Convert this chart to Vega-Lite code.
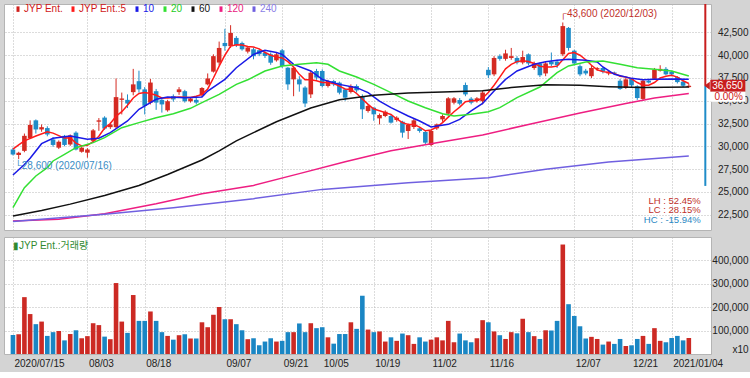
{
  "$schema": "https://vega.github.io/schema/vega-lite/v6.json",
  "background": "#d4d4d4",
  "padding": {"left": 3, "top": 3, "right": 3, "bottom": 3},
  "config": {
    "font": "Liberation Sans, sans-serif",
    "view": {"fill": "white", "stroke": "#b4b4b4"},
    "axis": {"labelFont": "Liberation Sans, sans-serif", "labelFontSize": 10, "labelColor": "#222222", "gridColor": "#b8b8b8", "gridDash": [1, 2], "gridWidth": 1, "domain": false, "ticks": false, "title": null, "labelOverlap": false},
    "concat": {"spacing": 5}
  },
  "datasets": {
    "p": [
      {"i":0,"o":29650,"h":29850,"l":29000,"c":29100,"v":81000},
      {"i":1,"o":29050,"h":29400,"l":28600,"c":29300,"v":84000},
      {"i":2,"o":29500,"h":31400,"l":29350,"c":31150,"v":242000},
      {"i":3,"o":30900,"h":32850,"l":30800,"c":32350,"v":170000},
      {"i":4,"o":32850,"h":32950,"l":31400,"c":31850,"v":127000},
      {"i":5,"o":31850,"h":32400,"l":31600,"c":32100,"v":138000},
      {"i":6,"o":32000,"h":32200,"l":31100,"c":31300,"v":77000},
      {"i":7,"o":30750,"h":31000,"l":29950,"c":30150,"v":93000},
      {"i":8,"o":29850,"h":30650,"l":29700,"c":30500,"v":98000},
      {"i":9,"o":31150,"h":31250,"l":30000,"c":30150,"v":58000},
      {"i":10,"o":30200,"h":31300,"l":30050,"c":31200,"v":85000},
      {"i":11,"o":31500,"h":31650,"l":29550,"c":29650,"v":101000},
      {"i":12,"o":29400,"h":30000,"l":29300,"c":29850,"v":67000},
      {"i":13,"o":29300,"h":29800,"l":28750,"c":29650,"v":76000},
      {"i":14,"o":30600,"h":31900,"l":30500,"c":31750,"v":131000},
      {"i":15,"o":32700,"h":33100,"l":31700,"c":32850,"v":123000},
      {"i":16,"o":33150,"h":33300,"l":31800,"c":31950,"v":74000},
      {"i":17,"o":32100,"h":32600,"l":31900,"c":32400,"v":63000},
      {"i":18,"o":32100,"h":37450,"l":32000,"c":35400,"v":302000},
      {"i":19,"o":35100,"h":35900,"l":33500,"c":35250,"v":138000},
      {"i":20,"o":35100,"h":35700,"l":34200,"c":34700,"v":90000},
      {"i":21,"o":35950,"h":38500,"l":35600,"c":36800,"v":251000},
      {"i":22,"o":37150,"h":38300,"l":35900,"c":36250,"v":141000},
      {"i":23,"o":36250,"h":36500,"l":33500,"c":34450,"v":141000},
      {"i":24,"o":34800,"h":37400,"l":34600,"c":37000,"v":181000},
      {"i":25,"o":36050,"h":36300,"l":34000,"c":34800,"v":141000},
      {"i":26,"o":35100,"h":35300,"l":33700,"c":34600,"v":93000},
      {"i":27,"o":33950,"h":35100,"l":33800,"c":34950,"v":77000},
      {"i":28,"o":35500,"h":35700,"l":34900,"c":35150,"v":61000},
      {"i":29,"o":35950,"h":36500,"l":35650,"c":36250,"v":80000},
      {"i":30,"o":36050,"h":36200,"l":34800,"c":34950,"v":84000},
      {"i":31,"o":34950,"h":35400,"l":34800,"c":35250,"v":66000},
      {"i":32,"o":35100,"h":35300,"l":34600,"c":34800,"v":66000},
      {"i":33,"o":35600,"h":36500,"l":35400,"c":36400,"v":135000},
      {"i":34,"o":36800,"h":38000,"l":36700,"c":37450,"v":114000},
      {"i":35,"o":38200,"h":40100,"l":38100,"c":39900,"v":167000},
      {"i":36,"o":39200,"h":41500,"l":38900,"c":40800,"v":200000},
      {"i":37,"o":41350,"h":42900,"l":40500,"c":41000,"v":148000},
      {"i":38,"o":41000,"h":43300,"l":40800,"c":42450,"v":148000},
      {"i":39,"o":41900,"h":42100,"l":40900,"c":41100,"v":127000},
      {"i":40,"o":41350,"h":41500,"l":40500,"c":40650,"v":101000},
      {"i":41,"o":40400,"h":41000,"l":40200,"c":40850,"v":63000},
      {"i":42,"o":40650,"h":40830,"l":39550,"c":39900,"v":67000},
      {"i":43,"o":40540,"h":40700,"l":39900,"c":40100,"v":37000},
      {"i":44,"o":40280,"h":40450,"l":39700,"c":39920,"v":53000},
      {"i":45,"o":40100,"h":40300,"l":38950,"c":39180,"v":67000},
      {"i":46,"o":39440,"h":40300,"l":39300,"c":40100,"v":53000},
      {"i":47,"o":40540,"h":40700,"l":38600,"c":38820,"v":56000},
      {"i":48,"o":38630,"h":38700,"l":36200,"c":36800,"v":93000},
      {"i":49,"o":37350,"h":38700,"l":35500,"c":38630,"v":93000},
      {"i":50,"o":37350,"h":37700,"l":36000,"c":36800,"v":130000},
      {"i":51,"o":36450,"h":36600,"l":34300,"c":34700,"v":93000},
      {"i":52,"o":35700,"h":38300,"l":35300,"c":38080,"v":131000},
      {"i":53,"o":38270,"h":38500,"l":37300,"c":37540,"v":110000},
      {"i":54,"o":38270,"h":38450,"l":36450,"c":36620,"v":114000},
      {"i":55,"o":36620,"h":37300,"l":36450,"c":37170,"v":71000},
      {"i":56,"o":37170,"h":37300,"l":36600,"c":36800,"v":44000},
      {"i":57,"o":36990,"h":37100,"l":35700,"c":35890,"v":85000},
      {"i":58,"o":36250,"h":36300,"l":35000,"c":35340,"v":85000},
      {"i":59,"o":35960,"h":36800,"l":35800,"c":36620,"v":135000},
      {"i":60,"o":36620,"h":36800,"l":35900,"c":36140,"v":107000},
      {"i":61,"o":35520,"h":35700,"l":33000,"c":34060,"v":248000},
      {"i":62,"o":33880,"h":34600,"l":33700,"c":34430,"v":104000},
      {"i":63,"o":34240,"h":34300,"l":32800,"c":33510,"v":93000},
      {"i":64,"o":33070,"h":33600,"l":32400,"c":33440,"v":96000},
      {"i":65,"o":33330,"h":33950,"l":33200,"c":33800,"v":53000},
      {"i":66,"o":33330,"h":33450,"l":32500,"c":32600,"v":71000},
      {"i":67,"o":32890,"h":33300,"l":32700,"c":33140,"v":56000},
      {"i":68,"o":32700,"h":32800,"l":30950,"c":31500,"v":87000},
      {"i":69,"o":31680,"h":32500,"l":30800,"c":32340,"v":80000},
      {"i":70,"o":32120,"h":33000,"l":31900,"c":32850,"v":43000},
      {"i":71,"o":31970,"h":32100,"l":31500,"c":31680,"v":71000},
      {"i":72,"o":31570,"h":31700,"l":30200,"c":30400,"v":53000},
      {"i":73,"o":30140,"h":31800,"l":30000,"c":31680,"v":61000},
      {"i":74,"o":31970,"h":32500,"l":31800,"c":32410,"v":71000},
      {"i":75,"o":32960,"h":33500,"l":32700,"c":33330,"v":58000},
      {"i":76,"o":33580,"h":35400,"l":33400,"c":35270,"v":141000},
      {"i":77,"o":34790,"h":35400,"l":34600,"c":35270,"v":50000},
      {"i":78,"o":35080,"h":35300,"l":34500,"c":34680,"v":87000},
      {"i":79,"o":36730,"h":37000,"l":35500,"c":35700,"v":58000},
      {"i":80,"o":35230,"h":35400,"l":34600,"c":34790,"v":50000},
      {"i":81,"o":34970,"h":35400,"l":34800,"c":35270,"v":67000},
      {"i":82,"o":34950,"h":36100,"l":34600,"c":35900,"v":144000},
      {"i":83,"o":38400,"h":38700,"l":37500,"c":37800,"v":135000},
      {"i":84,"o":37900,"h":39900,"l":37700,"c":39700,"v":96000},
      {"i":85,"o":39900,"h":40100,"l":39400,"c":39600,"v":80000},
      {"i":86,"o":39600,"h":40600,"l":39400,"c":40200,"v":64000},
      {"i":87,"o":39700,"h":40800,"l":39500,"c":39900,"v":93000},
      {"i":88,"o":39700,"h":39900,"l":39000,"c":39200,"v":88000},
      {"i":89,"o":39200,"h":40500,"l":39000,"c":39800,"v":150000},
      {"i":90,"o":40100,"h":40200,"l":38900,"c":39100,"v":93000},
      {"i":91,"o":38600,"h":39300,"l":38400,"c":39100,"v":76000},
      {"i":92,"o":39100,"h":39200,"l":37600,"c":37800,"v":64000},
      {"i":93,"o":38000,"h":39300,"l":37700,"c":39100,"v":101000},
      {"i":94,"o":39300,"h":40300,"l":38800,"c":39000,"v":100000},
      {"i":95,"o":39300,"h":39500,"l":38600,"c":38900,"v":141000},
      {"i":96,"o":40100,"h":43600,"l":39900,"c":43200,"v":466000},
      {"i":97,"o":43000,"h":43100,"l":40500,"c":40800,"v":212000},
      {"i":98,"o":40500,"h":40600,"l":38900,"c":39100,"v":162000},
      {"i":99,"o":38800,"h":39000,"l":37700,"c":37900,"v":118000},
      {"i":100,"o":38300,"h":38500,"l":37800,"c":38000,"v":66000},
      {"i":101,"o":37700,"h":38900,"l":37500,"c":38600,"v":73000},
      {"i":102,"o":38500,"h":38700,"l":38300,"c":38600,"v":64000},
      {"i":103,"o":38600,"h":38700,"l":38000,"c":38200,"v":40000},
      {"i":104,"o":38000,"h":38300,"l":37800,"c":38200,"v":53000},
      {"i":105,"o":38100,"h":38200,"l":37900,"c":38000,"v":43000},
      {"i":106,"o":37200,"h":37400,"l":36200,"c":36300,"v":64000},
      {"i":107,"o":36400,"h":37500,"l":36300,"c":37350,"v":34000},
      {"i":108,"o":37400,"h":37500,"l":36500,"c":36700,"v":37000},
      {"i":109,"o":36600,"h":36700,"l":35100,"c":35300,"v":64000},
      {"i":110,"o":35200,"h":37300,"l":35000,"c":37200,"v":77000},
      {"i":111,"o":37200,"h":37400,"l":36900,"c":37000,"v":43000},
      {"i":112,"o":37400,"h":38600,"l":37300,"c":38400,"v":110000},
      {"i":113,"o":38300,"h":38900,"l":38200,"c":38500,"v":56000},
      {"i":114,"o":38500,"h":38700,"l":37800,"c":37900,"v":50000},
      {"i":115,"o":38200,"h":38300,"l":37700,"c":37900,"v":68000},
      {"i":116,"o":37600,"h":37700,"l":36900,"c":37050,"v":77000},
      {"i":117,"o":37100,"h":37300,"l":36500,"c":36650,"v":58000},
      {"i":118,"o":36500,"h":36900,"l":36400,"c":36650,"v":68000}
    ],
    "lim": [
      {"i": 118, "from": 36650, "to": 47650, "side": "up"},
      {"i": 118, "from": 36650, "to": 25650, "side": "down"}
    ],
    "ma": [
      {"s":"5","i":0,"v":29700},{"s":"5","i":1,"v":30150},{"s":"5","i":2,"v":30600},{"s":"5","i":4,"v":31130},{"s":"5","i":6,"v":31600},{"s":"5","i":7,"v":31450},{"s":"5","i":9,"v":30900},{"s":"5","i":10,"v":30950},{"s":"5","i":11,"v":30350},{"s":"5","i":12,"v":30050},{"s":"5","i":13,"v":30100},{"s":"5","i":14,"v":30500},{"s":"5","i":15,"v":31100},{"s":"5","i":16,"v":32000},{"s":"5","i":17,"v":32500},{"s":"5","i":18,"v":33300},{"s":"5","i":19,"v":33800},{"s":"5","i":20,"v":34500},{"s":"5","i":21,"v":35300},{"s":"5","i":22,"v":35800},{"s":"5","i":23,"v":35900},{"s":"5","i":24,"v":35800},{"s":"5","i":25,"v":35600},{"s":"5","i":26,"v":35300},{"s":"5","i":27,"v":35300},{"s":"5","i":29,"v":35400},{"s":"5","i":31,"v":35350},{"s":"5","i":32,"v":35500},{"s":"5","i":33,"v":35700},{"s":"5","i":34,"v":36300},{"s":"5","i":35,"v":37500},{"s":"5","i":36,"v":38800},{"s":"5","i":37,"v":40000},{"s":"5","i":38,"v":41000},{"s":"5","i":39,"v":41150},{"s":"5","i":40,"v":41120},{"s":"5","i":41,"v":40950},{"s":"5","i":42,"v":40900},{"s":"5","i":43,"v":40700},{"s":"5","i":44,"v":40300},{"s":"5","i":45,"v":40000},{"s":"5","i":46,"v":39800},{"s":"5","i":47,"v":39700},{"s":"5","i":48,"v":39300},{"s":"5","i":49,"v":38700},{"s":"5","i":50,"v":37900},{"s":"5","i":51,"v":37300},{"s":"5","i":52,"v":37300},{"s":"5","i":53,"v":37200},{"s":"5","i":54,"v":37000},{"s":"5","i":55,"v":37000},{"s":"5","i":56,"v":36900},{"s":"5","i":57,"v":36600},{"s":"5","i":58,"v":36300},{"s":"5","i":59,"v":36250},{"s":"5","i":60,"v":35800},{"s":"5","i":61,"v":35200},{"s":"5","i":62,"v":34600},{"s":"5","i":63,"v":34100},{"s":"5","i":64,"v":33900},{"s":"5","i":65,"v":33700},{"s":"5","i":66,"v":33500},{"s":"5","i":67,"v":33000},{"s":"5","i":68,"v":32600},{"s":"5","i":69,"v":32400},{"s":"5","i":70,"v":32400},{"s":"5","i":71,"v":32100},{"s":"5","i":72,"v":31700},{"s":"5","i":73,"v":31800},{"s":"5","i":74,"v":32100},{"s":"5","i":75,"v":32600},{"s":"5","i":76,"v":33200},{"s":"5","i":77,"v":33800},{"s":"5","i":78,"v":34300},{"s":"5","i":79,"v":34900},{"s":"5","i":80,"v":35000},{"s":"5","i":81,"v":35000},{"s":"5","i":82,"v":35300},{"s":"5","i":83,"v":35900},{"s":"5","i":84,"v":36700},{"s":"5","i":85,"v":37600},{"s":"5","i":86,"v":38500},{"s":"5","i":87,"v":39000},{"s":"5","i":88,"v":39300},{"s":"5","i":89,"v":39400},{"s":"5","i":90,"v":39300},{"s":"5","i":91,"v":39100},{"s":"5","i":92,"v":38800},{"s":"5","i":93,"v":38700},{"s":"5","i":94,"v":38700},{"s":"5","i":95,"v":38800},{"s":"5","i":96,"v":39500},{"s":"5","i":97,"v":40200},{"s":"5","i":98,"v":40300},{"s":"5","i":99,"v":40000},{"s":"5","i":100,"v":39500},{"s":"5","i":101,"v":38900},{"s":"5","i":102,"v":38400},{"s":"5","i":103,"v":38200},{"s":"5","i":104,"v":38100},{"s":"5","i":105,"v":38000},{"s":"5","i":106,"v":37700},{"s":"5","i":107,"v":37600},{"s":"5","i":108,"v":37400},{"s":"5","i":109,"v":37000},{"s":"5","i":110,"v":36700},{"s":"5","i":111,"v":36700},{"s":"5","i":112,"v":37000},{"s":"5","i":113,"v":37500},{"s":"5","i":114,"v":37700},{"s":"5","i":115,"v":37800},{"s":"5","i":116,"v":37600},{"s":"5","i":117,"v":37200},{"s":"5","i":118,"v":36900},
      {"s":"10","i":0,"v":26850},{"s":"10","i":2,"v":28000},{"s":"10","i":3,"v":28700},{"s":"10","i":5,"v":30290},{"s":"10","i":7,"v":30880},{"s":"10","i":10,"v":31130},{"s":"10","i":13,"v":30770},{"s":"10","i":15,"v":30880},{"s":"10","i":17,"v":31500},{"s":"10","i":20,"v":32780},{"s":"10","i":22,"v":34060},{"s":"10","i":25,"v":35160},{"s":"10","i":27,"v":35410},{"s":"10","i":30,"v":35340},{"s":"10","i":33,"v":35410},{"s":"10","i":34,"v":36070},{"s":"10","i":37,"v":37350},{"s":"10","i":39,"v":38630},{"s":"10","i":42,"v":40100},{"s":"10","i":44,"v":40540},{"s":"10","i":46,"v":40300},{"s":"10","i":47,"v":40100},{"s":"10","i":49,"v":39000},{"s":"10","i":52,"v":38270},{"s":"10","i":54,"v":37350},{"s":"10","i":57,"v":36800},{"s":"10","i":60,"v":36440},{"s":"10","i":62,"v":35890},{"s":"10","i":64,"v":34970},{"s":"10","i":66,"v":34240},{"s":"10","i":69,"v":33330},{"s":"10","i":71,"v":32780},{"s":"10","i":73,"v":32120},{"s":"10","i":76,"v":32410},{"s":"10","i":78,"v":32960},{"s":"10","i":80,"v":33880},{"s":"10","i":82,"v":34700},{"s":"10","i":84,"v":36070},{"s":"10","i":86,"v":37350},{"s":"10","i":88,"v":38270},{"s":"10","i":91,"v":39000},{"s":"10","i":93,"v":39290},{"s":"10","i":95,"v":39440},{"s":"10","i":97,"v":39550},{"s":"10","i":100,"v":39440},{"s":"10","i":102,"v":39260},{"s":"10","i":103,"v":38710},{"s":"10","i":105,"v":37900},{"s":"10","i":108,"v":37460},{"s":"10","i":110,"v":37320},{"s":"10","i":112,"v":37350},{"s":"10","i":115,"v":37400},{"s":"10","i":118,"v":37350},
      {"s":"20","i":0,"v":23260},{"s":"20","i":1,"v":24360},{"s":"20","i":2,"v":25460},{"s":"20","i":4,"v":26740},{"s":"20","i":6,"v":27660},{"s":"20","i":7,"v":28390},{"s":"20","i":9,"v":29120},{"s":"20","i":11,"v":29850},{"s":"20","i":14,"v":30400},{"s":"20","i":16,"v":30950},{"s":"20","i":19,"v":32040},{"s":"20","i":22,"v":32600},{"s":"20","i":25,"v":33140},{"s":"20","i":28,"v":33580},{"s":"20","i":31,"v":34170},{"s":"20","i":33,"v":34790},{"s":"20","i":36,"v":35710},{"s":"20","i":39,"v":36800},{"s":"20","i":41,"v":37300},{"s":"20","i":44,"v":38270},{"s":"20","i":47,"v":38820},{"s":"20","i":50,"v":39000},{"s":"20","i":53,"v":39180},{"s":"20","i":55,"v":39000},{"s":"20","i":57,"v":38270},{"s":"20","i":60,"v":37610},{"s":"20","i":63,"v":36800},{"s":"20","i":66,"v":35890},{"s":"20","i":69,"v":34970},{"s":"20","i":72,"v":34240},{"s":"20","i":75,"v":33580},{"s":"20","i":77,"v":33330},{"s":"20","i":80,"v":33510},{"s":"20","i":83,"v":33800},{"s":"20","i":85,"v":34240},{"s":"20","i":88,"v":35340},{"s":"20","i":92,"v":36510},{"s":"20","i":95,"v":38080},{"s":"20","i":97,"v":38820},{"s":"20","i":100,"v":39260},{"s":"20","i":103,"v":39370},{"s":"20","i":106,"v":39000},{"s":"20","i":109,"v":38630},{"s":"20","i":112,"v":38450},{"s":"20","i":115,"v":38270},{"s":"20","i":118,"v":37720},
      {"s":"60","i":0,"v":22350},{"s":"60","i":5,"v":22950},{"s":"60","i":10,"v":23650},{"s":"60","i":16,"v":24600},{"s":"60","i":22,"v":25700},{"s":"60","i":27,"v":26900},{"s":"60","i":33,"v":28500},{"s":"60","i":36,"v":29500},{"s":"60","i":39,"v":30600},{"s":"60","i":42,"v":31500},{"s":"60","i":46,"v":32700},{"s":"60","i":52,"v":34200},{"s":"60","i":57,"v":35100},{"s":"60","i":63,"v":35600},{"s":"60","i":69,"v":35850},{"s":"60","i":75,"v":35950},{"s":"60","i":82,"v":36100},{"s":"60","i":87,"v":36450},{"s":"60","i":93,"v":36750},{"s":"60","i":99,"v":36700},{"s":"60","i":104,"v":36550},{"s":"60","i":110,"v":36450},{"s":"60","i":118,"v":36500},
      {"s":"120","i":0,"v":21800},{"s":"120","i":8,"v":22000},{"s":"120","i":16,"v":22600},{"s":"120","i":25,"v":23700},{"s":"120","i":33,"v":24800},{"s":"120","i":42,"v":25700},{"s":"120","i":50,"v":27000},{"s":"120","i":58,"v":28300},{"s":"120","i":66,"v":29500},{"s":"120","i":74,"v":30400},{"s":"120","i":82,"v":31250},{"s":"120","i":90,"v":32400},{"s":"120","i":99,"v":33650},{"s":"120","i":107,"v":34700},{"s":"120","i":112,"v":35300},{"s":"120","i":118,"v":35800},
      {"s":"240","i":0,"v":21730},{"s":"240","i":16,"v":22530},{"s":"240","i":28,"v":23260},{"s":"240","i":42,"v":24250},{"s":"240","i":54,"v":25270},{"s":"240","i":69,"v":26010},{"s":"240","i":83,"v":26560},{"s":"240","i":93,"v":27470},{"s":"240","i":104,"v":28280},{"s":"240","i":118,"v":28940}
    ]
  },
  "vconcat": [
    {
      "width": 707,
      "height": 226,
      "layer": [
        {
          "data": {"name": "p"},
          "mark": {"type": "rule", "strokeWidth": 1},
          "encoding": {
            "x": {"field": "i", "type": "quantitative", "scale": {"domain": [-0.69, 121], "nice": false, "zero": false},
                  "axis": {"values": [0, 13, 23, 37, 47, 54, 63, 73, 83, 98, 108, 115], "tickCount": 50, "labels": false, "grid": true}},
            "y": {"field": "h", "type": "quantitative", "scale": {"domain": [20810, 45625], "nice": false, "zero": false},
                  "axis": {"orient": "right", "values": [22500, 25000, 27500, 30000, 32500, 35000, 37500, 40000, 42500], "tickCount": 50, "labelExpr": "format(datum.value, ',')", "grid": true, "labelAlign": "right", "labelPadding": 37, "labelOverlap": false, "labelBound": false, "labelFlush": false}},
            "y2": {"field": "l"},
            "color": {"condition": {"test": "datum.c >= datum.o", "value": "#d42a22"}, "value": "#1f8cc8"}
          }
        },
        {
          "data": {"name": "p"},
          "mark": {"type": "bar", "width": 4.6},
          "encoding": {
            "x": {"field": "i", "type": "quantitative"},
            "y": {"field": "o", "type": "quantitative"},
            "y2": {"field": "c"},
            "color": {"condition": {"test": "datum.c >= datum.o", "value": "#d42a22"}, "value": "#1f8cc8"}
          }
        },
        {
          "data": {"name": "ma"},
          "mark": {"type": "line", "strokeWidth": 1.5},
          "encoding": {
            "x": {"field": "i", "type": "quantitative"},
            "y": {"field": "v", "type": "quantitative"},
            "color": {"field": "s", "type": "nominal",
              "scale": {"domain": ["P", "5", "10", "20", "60", "120", "240"], "range": ["#d0201c", "#ff1a1a", "#1a1ae6", "#33e033", "#111111", "#ee1e82", "#7060e0"]},
              "legend": {"orient": "none", "legendX": 9, "legendY": 0, "direction": "horizontal", "columns": 7, "title": null,
                "labelExpr": "datum.value == 'P' ? 'JYP Ent.' : datum.value == '5' ? 'JYP Ent.:5' : datum.value",
                "labelFontSize": 10, "labelOffset": 1, "columnPadding": 4, "symbolType": "M0,-1V1", "symbolSize": 30, "symbolStrokeWidth": 3,
                "labelColor": {"expr": "datum.value == 'P' || datum.value == '5' ? '#d01818' : datum.value == '10' ? '#1a1ae6' : datum.value == '20' ? '#22cc22' : datum.value == '60' ? '#111111' : datum.value == '120' ? '#e8207e' : '#8a7ee6'"}}},
            "detail": {"field": "s"}
          }
        },
        {
          "data": {"name": "lim"},
          "mark": {"type": "rule", "strokeWidth": 2, "xOffset": 16.5, "clip": true},
          "encoding": {
            "x": {"field": "i", "type": "quantitative"},
            "y": {"field": "from", "type": "quantitative"},
            "y2": {"field": "to"},
            "color": {"condition": {"test": "datum.side == 'up'", "value": "#c81e1e"}, "value": "#1f8cc8"}
          }
        },
        {
          "data": {"values": [{"i": 96, "y": 43600, "t": "┌43,600 (2020/12/03)"}]},
          "mark": {"type": "text", "align": "left", "baseline": "middle", "dx": -3, "dy": -8, "fontSize": 10, "color": "#c0302a"},
          "encoding": {"x": {"field": "i", "type": "quantitative"}, "y": {"field": "y", "type": "quantitative"}, "text": {"field": "t"}}
        },
        {
          "data": {"values": [{"i": 1, "y": 28600, "t": "└28,600 (2020/07/16)"}]},
          "mark": {"type": "text", "align": "left", "baseline": "middle", "dx": -4, "dy": 7, "fontSize": 10, "color": "#3a8cc4"},
          "encoding": {"x": {"field": "i", "type": "quantitative"}, "y": {"field": "y", "type": "quantitative"}, "text": {"field": "t"}}
        },
        {
          "data": {"name": "p"},
          "transform": [{"filter": "datum.i == 118"}],
          "mark": {"type": "text", "align": "right", "baseline": "middle", "dx": 12, "dy": 115, "fontSize": 9.5, "color": "#c0302a", "text": "LH :  52.45%"},
          "encoding": {"x": {"field": "i", "type": "quantitative"}, "y": {"field": "c", "type": "quantitative"}}
        },
        {
          "data": {"name": "p"},
          "transform": [{"filter": "datum.i == 118"}],
          "mark": {"type": "text", "align": "right", "baseline": "middle", "dx": 12, "dy": 124.5, "fontSize": 9.5, "color": "#c0302a", "text": "LC :  28.15%"},
          "encoding": {"x": {"field": "i", "type": "quantitative"}, "y": {"field": "c", "type": "quantitative"}}
        },
        {
          "data": {"name": "p"},
          "transform": [{"filter": "datum.i == 118"}],
          "mark": {"type": "text", "align": "right", "baseline": "middle", "dx": 12, "dy": 134, "fontSize": 9.5, "color": "#2a88c4", "text": "HC : -15.94%"},
          "encoding": {"x": {"field": "i", "type": "quantitative"}, "y": {"field": "c", "type": "quantitative"}}
        },
        {
          "data": {"name": "p"},
          "transform": [{"filter": "datum.i == 118"}],
          "mark": {"type": "point", "filled": true, "clip": false, "opacity": 1, "size": 400, "xOffset": 39, "color": "#c81e1e", "shape": "M-2.35,0L-1.8,-0.4L-1.8,0.4Z M-1.75,-0.6L1.75,-0.6L1.75,0.6L-1.75,0.6Z"},
          "encoding": {"x": {"field": "i", "type": "quantitative"}, "y": {"field": "c", "type": "quantitative"}}
        },
        {
          "data": {"name": "p"},
          "transform": [{"filter": "datum.i == 118"}],
          "mark": {"type": "point", "filled": true, "clip": false, "opacity": 1, "size": 400, "xOffset": 39, "yOffset": 11, "color": "#ffffff", "shape": "M-1.75,-0.5L1.75,-0.5L1.75,0.5L-1.75,0.5Z"},
          "encoding": {"x": {"field": "i", "type": "quantitative"}, "y": {"field": "c", "type": "quantitative"}}
        },
        {
          "data": {"name": "p"},
          "transform": [{"filter": "datum.i == 118"}],
          "mark": {"type": "text", "align": "right", "baseline": "middle", "dx": 54, "fontSize": 10, "color": "#ffffff", "clip": false},
          "encoding": {"x": {"field": "i", "type": "quantitative"}, "y": {"field": "c", "type": "quantitative"}, "text": {"field": "c", "format": ","}}
        },
        {
          "data": {"name": "p"},
          "transform": [{"filter": "datum.i == 118"}],
          "mark": {"type": "text", "align": "right", "baseline": "middle", "dx": 54, "dy": 11, "fontSize": 10, "color": "#d01818", "clip": false, "text": "0.00%"},
          "encoding": {"x": {"field": "i", "type": "quantitative"}, "y": {"field": "c", "type": "quantitative"}}
        }
      ]
    },
    {
      "width": 707,
      "height": 117,
      "title": {"text": "▮JYP Ent.:거래량", "anchor": "start", "orient": "top", "offset": -14, "dx": 9, "fontSize": 10, "fontWeight": "normal", "color": "#2f8a2f", "font": "Liberation Sans, Noto Sans CJK KR, sans-serif"},
      "data": {"name": "p"},
      "mark": {"type": "bar", "width": 4.6},
      "encoding": {
        "x": {"field": "i", "type": "quantitative", "scale": {"domain": [-0.69, 121], "nice": false, "zero": false},
              "axis": {"values": [0, 13, 23, 37, 47, 54, 63, 73, 83, 98, 108, 115], "tickCount": 50, "grid": true, "labelAlign": "left", "labelOffset": 1, "labelPadding": 4, "labelFlush": false, "labelBound": false, "labelOverlap": false,
                "labelExpr": "datum.value == 0 ? '2020/07/15' : datum.value == 13 ? '08/03' : datum.value == 23 ? '08/18' : datum.value == 37 ? '09/07' : datum.value == 47 ? '09/21' : datum.value == 54 ? '10/05' : datum.value == 63 ? '10/19' : datum.value == 73 ? '11/02' : datum.value == 83 ? '11/16' : datum.value == 98 ? '12/07' : datum.value == 108 ? '12/21' : datum.value == 115 ? '2021/01/04' : ''"}},
        "y": {"field": "v", "type": "quantitative", "scale": {"domain": [0, 498000], "nice": false},
              "axis": {"orient": "right", "values": [0, 100000, 200000, 300000, 400000], "tickCount": 50, "grid": true, "labelAlign": "right", "labelPadding": 37, "labelFlush": true, "labelOverlap": false,
                "labelExpr": "datum.value == 0 ? 'x10' : format(datum.value, ',')"}},
        "color": {"condition": {"test": "datum.c >= datum.o", "value": "#cc2a24"}, "value": "#1a86c4"}
      }
    }
  ]
}
